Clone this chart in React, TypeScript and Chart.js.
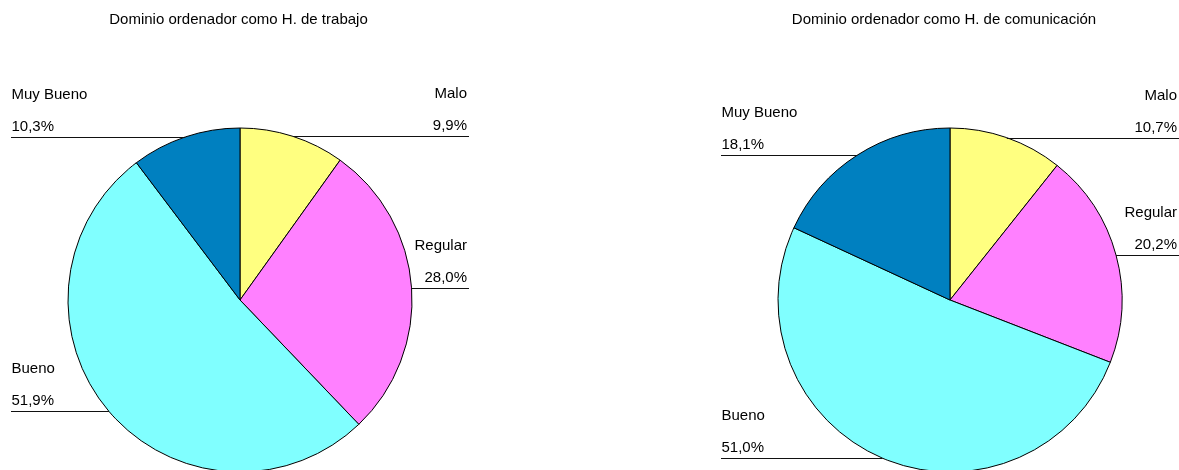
import React, { useEffect, useRef } from "react";
import { Chart, registerables } from "chart.js";

Chart.register(...registerables);

const categories = ["Malo", "Regular", "Bueno", "Muy Bueno"];
const trabajoValues = [9.9, 28.0, 51.9, 10.3];
const comunicacionValues = [10.7, 20.2, 51.0, 18.1];
const chartTitles = ["Dominio ordenador como H. de trabajo", "Dominio ordenador como H. de comunicación"];
const sliceColors = ["#FFFF80", "#FF80FF", "#80FFFF", "#0080C0"];

const FONT = "15px 'Liberation Sans', Arial, sans-serif";

const labelPlugin = {
  id: "excelLabels",
  afterDatasetsDraw(chart: any, _args: any, opts: any) {
    const ctx = chart.ctx;
    const meta = chart.getDatasetMeta(0);
    const values = chart.data.datasets[0].data as number[];
    const labels = chart.data.labels as string[];
    ctx.save();
    ctx.font = FONT;
    ctx.fillStyle = "#000";
    // title
    ctx.textAlign = "center";
    ctx.textBaseline = "alphabetic";
    ctx.fillText(opts.title, opts.titleX, 24);
    meta.data.forEach((arc: any, i: number) => {
      const mid = (arc.startAngle + arc.endAngle) / 2;
      const px = arc.x + Math.cos(mid) * arc.outerRadius;
      const py = arc.y + Math.sin(mid) * arc.outerRadius;
      const lineY = Math.round(py) + 0.5;
      const leftSide = px < arc.x;
      const anchor = leftSide ? arc.x - 229 : arc.x + 229;
      ctx.strokeStyle = "#111";
      ctx.lineWidth = 1;
      ctx.beginPath();
      ctx.moveTo(anchor, lineY);
      ctx.lineTo(px, lineY);
      ctx.stroke();
      const pct = values[i].toFixed(1).replace(".", ",") + "%";
      ctx.textAlign = leftSide ? "left" : "right";
      const tx = leftSide ? anchor + 0.5 : anchor - 2;
      ctx.fillText(pct, tx, lineY - 6.5);
      ctx.fillText(labels[i], tx, lineY - 38.5);
    });
    ctx.restore();
  },
};

function makeChart(canvas: HTMLCanvasElement, values: number[], title: string, padLeft: number, padRight: number, titleX: number) {
  return new Chart(canvas, {
    type: "pie",
    data: {
      labels: categories,
      datasets: [
        {
          data: values,
          backgroundColor: sliceColors,
          borderColor: "#000",
          borderWidth: 1,
          clip: false,
        } as any,
      ],
    },
    options: {
      responsive: false,
      animation: false,
      devicePixelRatio: 1,
      radius: 172,
      layout: { padding: { left: padLeft, right: padRight, top: 130, bottom: 0 } },
      plugins: {
        legend: { display: false },
        title: { display: false },
        tooltip: { enabled: false },
        excelLabels: { title, titleX },
      } as any,
    } as any,
    plugins: [labelPlugin],
  });
}

export default function App() {
  const leftRef = useRef<HTMLCanvasElement>(null);
  const rightRef = useRef<HTMLCanvasElement>(null);
  useEffect(() => {
    const c1 = makeChart(leftRef.current!, trabajoValues, chartTitles[0], 0, 110, 238.5);
    const c2 = makeChart(rightRef.current!, comunicacionValues, chartTitles[1], 131, 0, 354);
    return () => {
      c1.destroy();
      c2.destroy();
    };
  }, []);
  return (
    <div style={{ position: "absolute", left: 0, top: 0, width: 1179, height: 470, background: "#fff", overflow: "hidden" }}>
      <canvas ref={leftRef} width={590} height={470} style={{ position: "absolute", left: 0, top: 0, width: 590, height: 470 }} />
      <canvas ref={rightRef} width={589} height={470} style={{ position: "absolute", left: 590, top: 0, width: 589, height: 470 }} />
    </div>
  );
}
